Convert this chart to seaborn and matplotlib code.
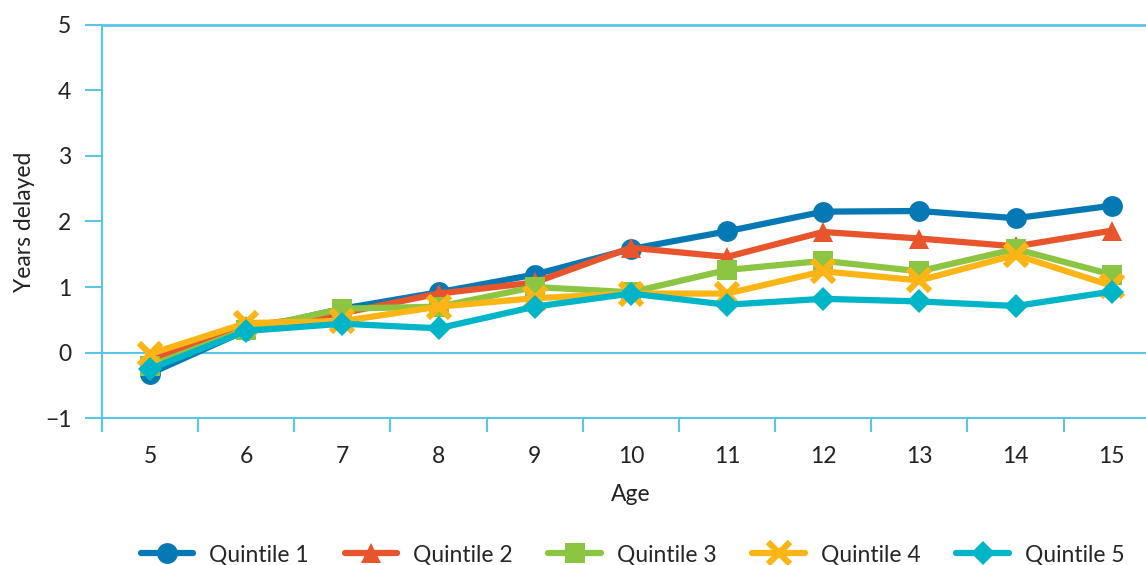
import numpy as np
import pandas as pd
import matplotlib.pyplot as plt
import seaborn as sns

ages = [5, 6, 7, 8, 9, 10, 11, 12, 13, 14, 15]
q1 = [-0.32, 0.34, 0.67, 0.92, 1.19, 1.58, 1.85, 2.15, 2.16, 2.05, 2.24]
q2 = [-0.12, 0.40, 0.60, 0.90, 1.07, 1.60, 1.46, 1.84, 1.74, 1.62, 1.86]
q3 = [-0.20, 0.35, 0.67, 0.70, 1.00, 0.92, 1.26, 1.40, 1.24, 1.58, 1.19]
q4 = [-0.02, 0.45, 0.48, 0.70, 0.83, 0.90, 0.90, 1.24, 1.10, 1.49, 1.02]
q5 = [-0.25, 0.33, 0.44, 0.37, 0.70, 0.90, 0.73, 0.82, 0.78, 0.71, 0.93]
names = ['Quintile 1', 'Quintile 2', 'Quintile 3', 'Quintile 4', 'Quintile 5']

farben = ['#0679B4', '#E8552C', '#8CC541', '#FDB515', '#00B5C8']
marker = ['o', '^', 's', 'x', 'D']
msize = [15, 14, 14, 16, 12]
achse = '#5BC5E8'

sns.set_style('white')
plt.rcParams['font.family'] = ['Lato', 'DejaVu Sans']
fs = 16.5

fig = plt.figure(figsize=(11.46, 5.65), dpi=100)
ax = fig.add_axes([0.089, 0.260, 0.923, 0.696])

for name, werte, c, m, ms in zip(names, [q1, q2, q3, q4, q5], farben, marker, msize):
    sns.lineplot(x=ages, y=werte, ax=ax, color=c, marker=m, markersize=ms,
                 markeredgewidth=4.5 if m == 'x' else 0, markeredgecolor=c,
                 linewidth=4.5, label=name, clip_on=False)

ax.set_xlim(4.5, 15.5)
ax.set_ylim(-1, 5)
ax.set_xticks(ages)
ax.set_xticks(np.arange(4.5, 16, 1), minor=True)
ax.set_yticks(range(-1, 6))
ax.set_yticklabels(['\u22121', '0', '1', '2', '3', '4', '5'])
ax.tick_params(axis='x', which='major', bottom=True, length=0, pad=20, labelsize=fs,
               labelcolor='#222222')
ax.tick_params(axis='x', which='minor', bottom=True, length=10, width=1.5, color=achse,
               direction='out')
ax.tick_params(axis='y', left=True, length=12, width=1.5, color=achse, direction='out', pad=10,
               labelsize=fs, labelcolor='#222222')
ax.axhline(0, color=achse, lw=1.5, zorder=0)
ax.axhline(5, color=achse, lw=2, zorder=0, clip_on=False)

for s in ['top', 'right']:
    ax.spines[s].set_visible(False)
for s in ['left', 'bottom']:
    ax.spines[s].set_color(achse)
    ax.spines[s].set_linewidth(1.5)

ax.set_xlabel('Age', fontsize=fs, labelpad=12, color='#222222')
ax.set_ylabel('Years delayed', fontsize=fs, labelpad=7, color='#222222')

ax.get_legend().remove()
h, l = ax.get_legend_handles_labels()
fig.legend(h, l, loc='lower center', bbox_to_anchor=(0.552, -0.037), ncol=5, frameon=False,
           fontsize=fs, handlelength=2.3, columnspacing=1.55, handletextpad=0.7)

plt.savefig('out.png', dpi=100)
